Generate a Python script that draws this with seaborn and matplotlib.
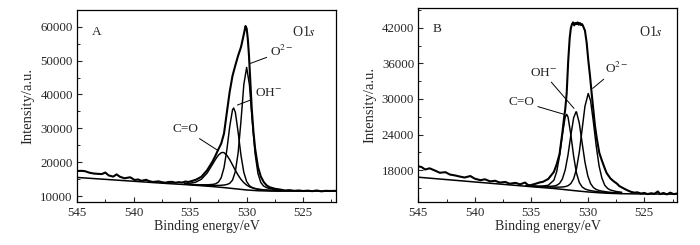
"""
XPS O1s spectra with peak fitting (panels A and B)
"""

import matplotlib
matplotlib.use("Agg")
import matplotlib.pyplot as plt
from matplotlib.ticker import MultipleLocator
import seaborn as sns

# ---------------- Panel A data ----------------
# measured spectrum (raw + envelope)
a_raw_e = [545.0, 544.6, 544.3, 543.9, 543.5, 543.1, 542.8, 542.5, 542.2, 541.8,
           541.5, 541.2, 540.8, 540.3, 539.9, 539.6, 539.3, 538.9, 538.6, 538.3,
           537.8, 537.5, 537.2, 536.9, 536.6, 536.3, 536.0, 535.7, 535.4, 535.2,
           535.0, 534.5, 534.0, 533.5, 533.0, 532.75, 532.5, 532.25, 532.0, 531.75,
           531.5, 531.25, 531.0, 530.75, 530.5, 530.3, 530.1, 530.0, 529.9, 529.8,
           529.7, 529.55, 529.4, 529.25, 529.0, 528.75, 528.5, 528.25, 528.0, 527.5,
           527.0, 526.6, 526.2, 525.8, 525.4, 525.0, 524.6, 524.2, 523.8, 523.4,
           523.0, 522.6, 522.1]
a_raw_i = [17400, 17450, 17350, 16900, 16650, 16550, 16500, 16950, 16100, 15750,
           16400, 15700, 15250, 15550, 14750, 14900, 14500, 14800, 14400, 14150,
           14350, 14100, 13950, 14150, 14200, 13950, 14100, 14000, 14300, 14150,
           14300, 14800, 15700, 17600, 20300, 22000, 23800, 25500, 28500, 34700,
           40800, 45500, 48600, 51500, 54000, 57000, 60200, 59500, 56500, 51800,
           45500, 35800, 29000, 24000, 18600, 15800, 14200, 13200, 12650, 12150,
           11900, 11650, 11750, 11550, 11650, 11500, 11600, 11450, 11650, 11400,
           11550, 11500, 11550]

# background
a_bg_e = [545.0, 543.0, 541.0, 539.0, 537.0, 535.0, 534.0, 533.0, 532.0, 531.0,
          530.0, 529.0, 528.0, 527.0, 525.0, 522.1]
a_bg_i = [15500, 15050, 14600, 14150, 13700, 13300, 13050, 12800, 12500, 12150,
          11800, 11580, 11480, 11450, 11450, 11450]

# fitted components
comp_e = [535.5, 535.0, 534.5, 534.0, 533.5, 533.0, 532.75, 532.5, 532.25, 532.0,
          531.75, 531.5, 531.25, 531.0, 530.75, 530.5, 530.25, 530.0, 529.75, 529.5,
          529.25, 529.0, 528.75, 528.5, 528.25, 528.0, 527.5, 527.0]
a_o2_i = [13520, 13430, 13335, 13250, 13190, 13155, 13145, 13150, 13190, 13265,
          13410, 13755, 14710, 17240, 22850, 32245, 42900, 48000, 42755, 31960,
          22425, 16670, 14025, 12960, 12505, 12245, 11965, 11805]
a_oh_e = [535.5, 535.0, 534.5, 534.0, 533.5, 533.0, 532.75, 532.5, 532.25, 532.0,
          531.75, 531.5, 531.25, 531.15, 531.0, 530.75, 530.5, 530.25, 530.0, 529.75,
          529.5, 529.25, 529.0, 528.75, 528.5, 528.25, 528.0, 527.5, 527.0]
a_oh_i = [13535, 13455, 13380, 13330, 13330, 13440, 13620, 14110, 15425, 18405,
          23655, 30435, 35480, 36000, 34740, 28780, 21985, 17000, 14275, 13050,
          12520, 12245, 12055, 11945, 11850, 11775, 11710, 11640, 11585]
a_co_e = [535.5, 535.0, 534.5, 534.0, 533.5, 533.0, 532.75, 532.5, 532.25, 532.1,
          532.0, 531.75, 531.5, 531.25, 531.0, 530.75, 530.5, 530.25, 530.0, 529.75,
          529.5, 529.25, 529.0, 528.75, 528.5, 528.25, 528.0, 527.5, 527.0]
a_co_i = [13745, 13810, 14110, 14975, 16765, 19470, 20880, 22080, 22800, 22880,
          22800, 22050, 20765, 19205, 17615, 16155, 14925, 13965, 13235, 12745,
          12410, 12170, 12000, 11900, 11825, 11760, 11705, 11645, 11600]

# ---------------- Panel B data ----------------
b_raw_e = [545.0, 544.7, 544.4, 544.0, 543.5, 543.1, 542.6, 542.2, 541.75, 541.3,
           540.9, 540.4, 540.0, 539.5, 539.1, 538.65, 538.2, 537.8, 537.3, 536.9,
           536.4, 536.0, 535.55, 535.3, 535.1, 534.7, 534.2, 534.0, 533.5, 533.0,
           532.75, 532.5, 532.25, 532.1, 532.0, 531.87, 531.73, 531.6, 531.5, 531.4,
           531.3, 531.2, 531.1, 531.0, 530.9, 530.8, 530.7, 530.6, 530.5, 530.4,
           530.25, 530.1, 529.96, 529.8, 529.66, 529.5, 529.36, 529.2, 528.98, 528.75,
           528.5, 528.33, 528.0, 527.7, 527.44, 527.2, 526.86, 526.5, 526.2, 525.9,
           525.6, 525.3, 525.0, 524.7, 524.4, 524.1, 523.8, 523.6, 523.3, 523.0,
           522.7, 522.4, 522.1]
b_raw_i = [18650, 18500, 18100, 18300, 17900, 17550, 17650, 17250, 17100, 16900,
           16750, 17000, 16550, 16300, 16450, 16100, 16200, 15900, 16000, 15700,
           15850, 15600, 15900, 15500, 15450, 15650, 15950, 16000, 16500, 17700,
           19000, 20700, 24300, 26800, 28200, 30900, 36500, 40300, 41900, 42600,
           42900, 42400, 42800, 42600, 42900, 42500, 42800, 42450, 42600, 42200,
           41500, 39500, 36600, 33800, 31000, 28000, 25400, 23300, 20900, 19600,
           18300, 17500, 16600, 16100, 15750, 15300, 14950, 14600, 14350, 14200,
           14250, 14050, 14150, 13950, 14100, 14000, 14400, 13950, 14150, 13900,
           14200, 13950, 14050]

b_bg_e = [545.0, 543.0, 541.0, 539.0, 537.0, 535.0, 533.0, 532.0, 531.0, 530.0,
          529.0, 528.0, 527.0, 525.0, 522.1]
b_bg_i = [16800, 16480, 16160, 15840, 15520, 15200, 14900, 14700, 14500, 14320,
          14180, 14080, 14020, 13970, 13950]

b_co_e = [535.5, 535.0, 534.5, 534.0, 533.5, 533.0, 532.75, 532.5, 532.25, 532.0,
          531.87, 531.75, 531.5, 531.25, 531.0, 530.75, 530.5, 530.25, 530.0, 529.75,
          529.5, 529.25, 529.0, 528.75, 528.5, 528.25, 528.0, 527.5, 527.0]
b_co_i = [15375, 15325, 15295, 15310, 15440, 16300, 17750, 20415, 24005, 26935,
          27405, 26950, 23980, 20305, 17490, 15895, 15160, 14830, 14655, 14545,
          14465, 14390, 14325, 14280, 14235, 14200, 14165, 14115, 14075]
b_oh_e = [535.5, 535.0, 534.5, 534.0, 533.5, 533.0, 532.75, 532.5, 532.25, 532.0,
          531.75, 531.5, 531.25, 531.04, 531.0, 530.75, 530.5, 530.25, 530.0, 529.75,
          529.5, 529.25, 529.0, 528.75, 528.5, 528.25, 528.0, 527.5, 527.0]
b_oh_i = [15365, 15305, 15255, 15235, 15240, 15315, 15440, 15755, 16500, 18020,
          20560, 23870, 26820, 27830, 27800, 25900, 22575, 19340, 17030, 15715,
          15050, 14735, 14560, 14455, 14375, 14310, 14255, 14180, 14120]
b_o2_e = [535.5, 535.0, 534.5, 534.0, 533.5, 533.0, 532.75, 532.5, 532.25, 532.0,
          531.75, 531.5, 531.25, 531.0, 530.75, 530.5, 530.25, 529.96, 529.75, 529.5,
          529.25, 529.0, 528.75, 528.5, 528.25, 528.0, 527.5, 527.0]
b_o2_i = [15355, 15290, 15230, 15185, 15150, 15135, 15125, 15135, 15150, 15215,
          15370, 15730, 16540, 18215, 21040, 24895, 28765, 30910, 29680, 26045,
          22015, 18690, 16645, 15450, 14915, 14645, 14400, 14265]

# ---------------- plotting ----------------
sns.set_theme(style="ticks")
plt.rcParams["font.family"] = ["Liberation Serif", "DejaVu Serif"]
plt.rcParams["mathtext.fontset"] = "stix"
plt.rcParams["xtick.direction"] = "in"
plt.rcParams["ytick.direction"] = "in"

fig = plt.figure(figsize=(7, 2.45), dpi=100)
ax_a = fig.add_axes([0.110, 0.174, 0.370, 0.785])
ax_b = fig.add_axes([0.5976, 0.174, 0.3696, 0.792])


def draw(ax, raw_e, raw_i, bg_e, bg_i, comps):
    sns.lineplot(x=raw_e, y=raw_i, ax=ax, color="black", lw=1.5,
                 estimator=None, sort=False)
    sns.lineplot(x=bg_e, y=bg_i, ax=ax, color="black", lw=1.1,
                 estimator=None, sort=False)
    for e, i in comps:
        sns.lineplot(x=e, y=i, ax=ax, color="black", lw=1.05,
                     estimator=None, sort=False)


draw(ax_a, a_raw_e, a_raw_i, a_bg_e, a_bg_i,
     [(comp_e, a_o2_i), (a_oh_e, a_oh_i), (a_co_e, a_co_i)])
draw(ax_b, b_raw_e, b_raw_i, b_bg_e, b_bg_i,
     [(b_co_e, b_co_i), (b_oh_e, b_oh_i), (b_o2_e, b_o2_i)])

ax_a.set_ylim(8140, 64930)
ax_b.set_ylim(12560, 45270)
ax_a.yaxis.set_major_locator(MultipleLocator(10000))
ax_a.yaxis.set_minor_locator(MultipleLocator(5000))
ax_b.yaxis.set_major_locator(MultipleLocator(6000))
ax_b.yaxis.set_minor_locator(MultipleLocator(3000))

for ax in (ax_a, ax_b):
    ax.set_xlim(545, 522.1)
    ax.xaxis.set_major_locator(MultipleLocator(5))
    ax.xaxis.set_minor_locator(MultipleLocator(2.5))
    ax.tick_params(which="major", length=3.5, width=0.8, labelsize=9.3, pad=3)
    ax.tick_params(which="minor", length=2, width=0.7)
    for sp in ax.spines.values():
        sp.set_linewidth(0.9)
        sp.set_color("black")
    ax.set_xlabel("Binding energy/eV", fontsize=10, labelpad=1)
    ax.set_ylabel("Intensity/a.u.", fontsize=10.5, labelpad=4)

lead = dict(arrowstyle="-", color="black", lw=0.7, shrinkA=0, shrinkB=0)

# panel A labels
ax_a.text(0.076, 0.887, "A", transform=ax_a.transAxes, fontsize=9.5,
          ha="center", va="center")
ax_a.text(0.876, 0.887, r"O1$s$", transform=ax_a.transAxes, fontsize=10,
          ha="center", va="center")
ax_a.annotate(r"O$^{2-}$", xy=(529.7, 49130), xytext=(526.9, 52600),
              fontsize=9.5, ha="center", va="center", arrowprops=lead)
ax_a.annotate(r"OH$^{-}$", xy=(530.82, 36870), xytext=(528.1, 40330),
              fontsize=9.5, ha="center", va="center", arrowprops=lead)
ax_a.annotate("C=O", xy=(532.5, 23380), xytext=(535.44, 29700),
              fontsize=9.5, ha="center", va="center", arrowprops=lead)

# panel B labels
ax_b.text(0.073, 0.892, "B", transform=ax_b.transAxes, fontsize=9.5,
          ha="center", va="center")
ax_b.text(0.901, 0.879, r"O1$s$", transform=ax_b.transAxes, fontsize=10,
          ha="center", va="center")
ax_b.annotate(r"OH$^{-}$", xy=(531.22, 28400), xytext=(533.94, 34390),
              fontsize=9.5, ha="center", va="center", arrowprops=lead)
ax_b.annotate(r"O$^{2-}$", xy=(529.57, 31770), xytext=(527.44, 35140),
              fontsize=9.5, ha="center", va="center", arrowprops=lead)
ax_b.annotate("C=O", xy=(532.08, 27390), xytext=(535.85, 29510),
              fontsize=9.5, ha="center", va="center", arrowprops=lead)

fig.savefig("out.png", dpi=100)
